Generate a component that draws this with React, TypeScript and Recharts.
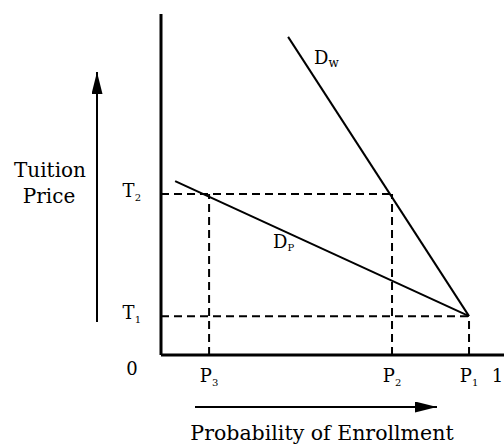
import React from 'react';
import { ComposedChart, Line, XAxis, YAxis, ReferenceLine } from 'recharts';

// probability of enrollment (x) and tuition price (y), both on 0..1 scales
const probLabels = ['P3', 'P2', 'P1', '1'];
const probValues = [0.143, 0.687, 0.916, 1];
const priceLabels = ['T1', 'T2'];
const priceValues = [0.114, 0.472];

const [P3, P2, P1] = probValues;
const [T1, T2] = priceValues;

const dwX = [0.378, P1];
const dwY = [0.933, T1];
const dpX = [0.042, P1];
const dpY = [0.51, T1];

const dwData = dwX.map((x, i) => ({ x, y: dwY[i] }));
const dpData = dpX.map((x, i) => ({ x, y: dpY[i] }));

const FONT = '"DejaVu Serif", serif';

function SubText({ x, y, label, anchor }: { x: number; y: number; label: string; anchor: string }) {
  const main = label.charAt(0);
  const sub = label.slice(1);
  return (
    <text x={x} y={y} textAnchor={anchor as any} fontFamily={FONT} fontSize={18} fill="#000">
      {main}
      {sub && <tspan fontSize={10} dy={4}>{sub}</tspan>}
    </text>
  );
}

function XTick(props: any) {
  const { x, y, payload } = props;
  const idx = probValues.indexOf(payload.value);
  const label = probLabels[idx] ?? '';
  if (label === '1') {
    return (
      <text x={x + 6} y={y + 19} textAnchor="end" fontFamily={FONT} fontSize={18} fill="#000">1</text>
    );
  }
  return <SubText x={x} y={y + 19} label={label} anchor="middle" />;
}

function YTick(props: any) {
  const { x, y, payload } = props;
  const idx = priceValues.indexOf(payload.value);
  const label = priceLabels[idx] ?? '';
  return <SubText x={x - 12} y={y + 3} label={label} anchor="end" />;
}

export default function App() {
  const dash = '8 5';
  return (
    <div style={{ position: 'absolute', left: 0, top: 0, width: 504, height: 448, background: '#fff' }}>
      <ComposedChart
        width={504}
        height={448}
        margin={{ top: 14, right: 0, left: 101, bottom: 63 }}
      >
        <XAxis
          type="number"
          dataKey="x"
          domain={[0, 1.02]}
          ticks={probValues}
          tick={<XTick />}
          tickLine={false}
          axisLine={{ stroke: '#000', strokeWidth: 3 }}
          height={30}
          allowDataOverflow
        />
        <YAxis
          type="number"
          dataKey="y"
          domain={[0, 1]}
          ticks={priceValues}
          tick={<YTick />}
          tickLine={false}
          axisLine={{ stroke: '#000', strokeWidth: 3 }}
          width={60}
        />
        <ReferenceLine segment={[{ x: 0, y: T2 }, { x: P2, y: T2 }]} stroke="#000" strokeWidth={2} strokeDasharray={dash} />
        <ReferenceLine segment={[{ x: 0, y: T1 }, { x: P1, y: T1 }]} stroke="#000" strokeWidth={2} strokeDasharray={dash} />
        <ReferenceLine segment={[{ x: P3, y: 0 }, { x: P3, y: T2 }]} stroke="#000" strokeWidth={2} strokeDasharray={dash} />
        <ReferenceLine segment={[{ x: P2, y: 0 }, { x: P2, y: T2 }]} stroke="#000" strokeWidth={2} strokeDasharray={dash} />
        <ReferenceLine segment={[{ x: P1, y: 0 }, { x: P1, y: T1 }]} stroke="#000" strokeWidth={2} strokeDasharray={dash} />
        <Line data={dwData} dataKey="y" stroke="#000" strokeWidth={2} dot={false} isAnimationActive={false} />
        <Line data={dpData} dataKey="y" stroke="#000" strokeWidth={2} dot={false} isAnimationActive={false} />
      </ComposedChart>
      <svg
        width={504}
        height={448}
        style={{ position: 'absolute', left: 0, top: 0, pointerEvents: 'none' }}
      >
        <defs>
          <marker id="arrow" viewBox="0 0 10 10" refX="10" refY="5" markerWidth="11" markerHeight="5.5" orient="auto" markerUnits="strokeWidth" preserveAspectRatio="none">
            <path d="M0,0 L10,5 L0,10 z" fill="#000" />
          </marker>
        </defs>
        {/* axis titles */}
        <text x={50} y={177} textAnchor="middle" fontFamily={FONT} fontSize={20} fill="#000">Tuition</text>
        <text x={49} y={203} textAnchor="middle" fontFamily={FONT} fontSize={20} fill="#000">Price</text>
        <line x1={97} y1={322} x2={97} y2={72} stroke="#000" strokeWidth={2} markerEnd="url(#arrow)" />
        <line x1={195} y1={407} x2={437} y2={407} stroke="#000" strokeWidth={2} markerEnd="url(#arrow)" />
        <text x={322} y={440} textAnchor="middle" fontFamily={FONT} fontSize={20.5} fill="#000">Probability of Enrollment</text>
        <text x={132} y={375} textAnchor="middle" fontFamily={FONT} fontSize={18} fill="#000">0</text>
        {/* curve labels */}
        <text x={314} y={64} fontFamily={FONT} fontSize={18} fill="#000">
          D<tspan fontSize={12} dy={3}>w</tspan>
        </text>
        <text x={273} y={248} fontFamily={FONT} fontSize={18} fill="#000">
          D<tspan fontSize={10} dy={3}>P</tspan>
        </text>
      </svg>
    </div>
  );
}
